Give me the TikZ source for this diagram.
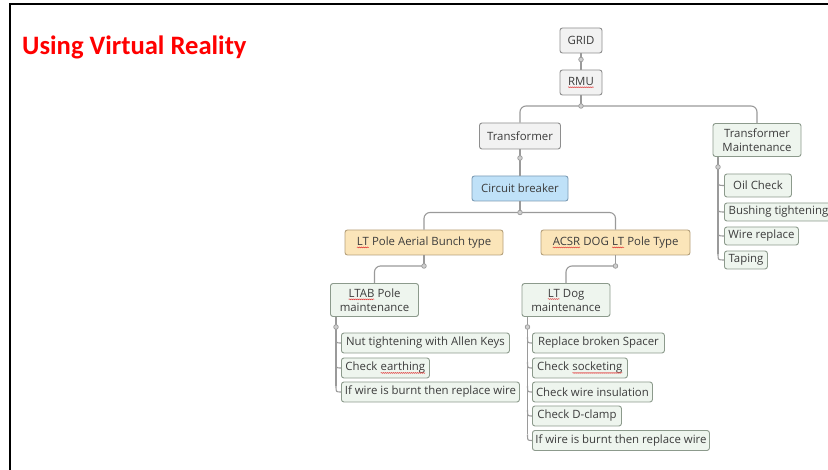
\documentclass[tikz,border=0pt]{standalone}
\usepackage{fontspec}
\setmainfont{Open Sans}
\newfontfamily\headfont{Carlito}
\usetikzlibrary{calc,decorations.pathmorphing}

\definecolor{ink}{HTML}{3C3C3C}
\definecolor{wire}{HTML}{9A9A9A}
\definecolor{greyfill}{HTML}{F2F2F2}
\definecolor{greyline}{HTML}{8E8E8E}
\definecolor{mintfill}{HTML}{EEF5EE}
\definecolor{mintline}{HTML}{8C9A8C}
\definecolor{skyfill}{HTML}{BFE1F8}
\definecolor{skyline}{HTML}{7D9CB5}
\definecolor{sandfill}{HTML}{FBE5B9}
\definecolor{sandline}{HTML}{B5A07A}
\definecolor{spell}{HTML}{E03030}

% word with a red wavy underline
\newcommand\squig[1]{\tikz[baseline=(sq.base)]{%
  \node[draw=none,fill=none,inner sep=0pt,outer sep=0pt,minimum size=0pt,
        rounded corners=0pt,anchor=base] (sq) {#1};
  \draw[spell,line width=0.45pt,sharp corners,decorate,
        decoration={snake,amplitude=0.45pt,segment length=2pt}]
    ([yshift=-2pt]sq.base west) -- ([yshift=-2pt]sq.base east);}}

\begin{document}
\begin{tikzpicture}[x=1pt,y=-1pt,
  conn/.style={draw=wire,line width=1.1pt},
  junction/.style={circle,draw=wire,fill=greyfill!60!wire,line width=0.7pt,
                   inner sep=0pt,minimum size=4.6pt},
  card/.style={rounded corners=2.5pt,line width=0.9pt,inner sep=1pt,
               align=center,text=ink,font=\fontsize{11.4}{14}\selectfont},
  grey/.style={card,draw=greyline,fill=greyfill},
  mint/.style={card,draw=mintline,fill=mintfill},
  sky/.style={card,draw=skyline,fill=skyfill},
  sand/.style={card,draw=sandline,fill=sandfill},
  size/.style 2 args={minimum width=#1,minimum height=#2},
  leaf/.style={mint,anchor=west,minimum height=20},
  small leaf/.style={mint,anchor=west,minimum height=18}]

\useasboundingbox (0,0) rectangle (828,470);
\fill[white] (0,0) rectangle (828,470);
\draw[black,line width=2pt] (10,470) -- (10,4) -- (828,4);

\node[anchor=base west,inner sep=0pt,text=red,
      font=\headfont\bfseries\fontsize{26.6}{31}\selectfont] (title) at (22,55)
      {Using Virtual Reality};

% main chain
\node[grey,size={42}{25}] (grid) at (581,40.5) {GRID};
\node[grey,size={42}{25}] (rmu) at (581,82.5) {\squig{RMU}};
\node[grey,size={81}{26}] (trans) at (520,136) {Transformer};
\node[mint,size={88}{33}] (tm) at (757,140) {Transformer\\Maintenance};
\node[sky,size={96}{25}] (cb) at (520,188.5) {Circuit breaker};
\node[sand,size={158}{25}] (ltp) at (424,242.5) {\squig{LT} Pole Aerial Bunch type};
\node[sand,size={149}{25}] (acsr) at (615.5,242.5) {\squig{ACSR} DOG \squig{LT} Pole Type};
\node[mint,size={88}{33}] (ltab) at (374.5,300) {\squig{LTAB} Pole\\maintenance};
\node[mint,size={88}{33}] (ltdog) at (566,300) {\squig{LT} Dog\\maintenance};

% transformer maintenance tasks
\node[mint,anchor=west,size={67}{23}] (t1) at (724,185.5) {Oil Check};
\node[small leaf,minimum width=108] (t2) at (724,212) {Bushing tightening};
\node[small leaf,minimum width=74] (t3) at (724,236) {Wire replace};
\node[small leaf,minimum width=43] (t4) at (724,260) {Taping};

% LTAB pole tasks
\node[leaf,minimum width=168] (a1) at (341,343) {Nut tightening with Allen Keys};
\node[leaf,minimum width=88] (a2) at (341,368) {Check \squig{earthing}};
\node[leaf,minimum width=178] (a3) at (341,392) {If wire is burnt then replace wire};

% LT dog tasks
\node[leaf,minimum width=132] (b1) at (532,343) {Replace broken Spacer};
\node[leaf,minimum width=95] (b2) at (532,368) {Check \squig{socketing}};
\node[leaf,minimum width=120] (b3) at (532,392) {Check wire insulation};
\node[leaf,minimum width=89] (b4) at (532,416) {Check D-clamp};
\node[leaf,minimum width=177] (b5) at (532,440.5) {If wire is burnt then replace wire};

% junction points
\coordinate (j0) at (581,59.5);
\coordinate (j1) at (581,106);
\coordinate (j2) at (520,158);
\coordinate (j3) at (520,212.5);
\coordinate (j4) at (424,266);
\coordinate (j5) at (615.5,266);
\coordinate (rt) at (718,167);
\coordinate (ra) at (336,327);
\coordinate (rb) at (527.5,327);

% tree connectors
\draw[conn] (grid) -- (rmu);
\draw[conn] (rmu) -- (j1);
\draw[conn,rounded corners=6pt] (trans.north) |- (j1) -| (tm.north);
\draw[conn] (trans) -- (cb);
\draw[conn] (cb) -- (j3);
\draw[conn,rounded corners=6pt] (ltp.north) |- (j3) -| (acsr.north);
\draw[conn] (ltp.south) -- (j4);
\draw[conn,rounded corners=6pt] (j4) -| (ltab.north);
\draw[conn] (acsr.south) -- (j5);
\draw[conn,rounded corners=6pt] (j5) -| (ltdog.north);

% task rails with a curved branch into each task
\draw[conn] (tm.south -| rt) -- ($(t4.west -| rt)+(0,-6)$);
\foreach \c in {t1,t2,t3,t4}
  \draw[conn] ($(\c.west -| rt)+(0,-6)$) .. controls (\c.west -| rt) .. (\c.west);
\draw[conn] (ltab.south -| ra) -- ($(a3.west -| ra)+(0,-6)$);
\foreach \c in {a1,a2,a3}
  \draw[conn] ($(\c.west -| ra)+(0,-6)$) .. controls (\c.west -| ra) .. (\c.west);
\draw[conn] (ltdog.south -| rb) -- ($(b5.west -| rb)+(0,-6)$);
\foreach \c in {b1,b2,b3,b4,b5}
  \draw[conn] ($(\c.west -| rb)+(0,-6)$) .. controls (\c.west -| rb) .. (\c.west);

% junction dots
\foreach \p in {j0,j1,j2,j3,j4,j5,rt,ra,rb}
  \node[junction] at (\p) {};
\end{tikzpicture}
\end{document}
